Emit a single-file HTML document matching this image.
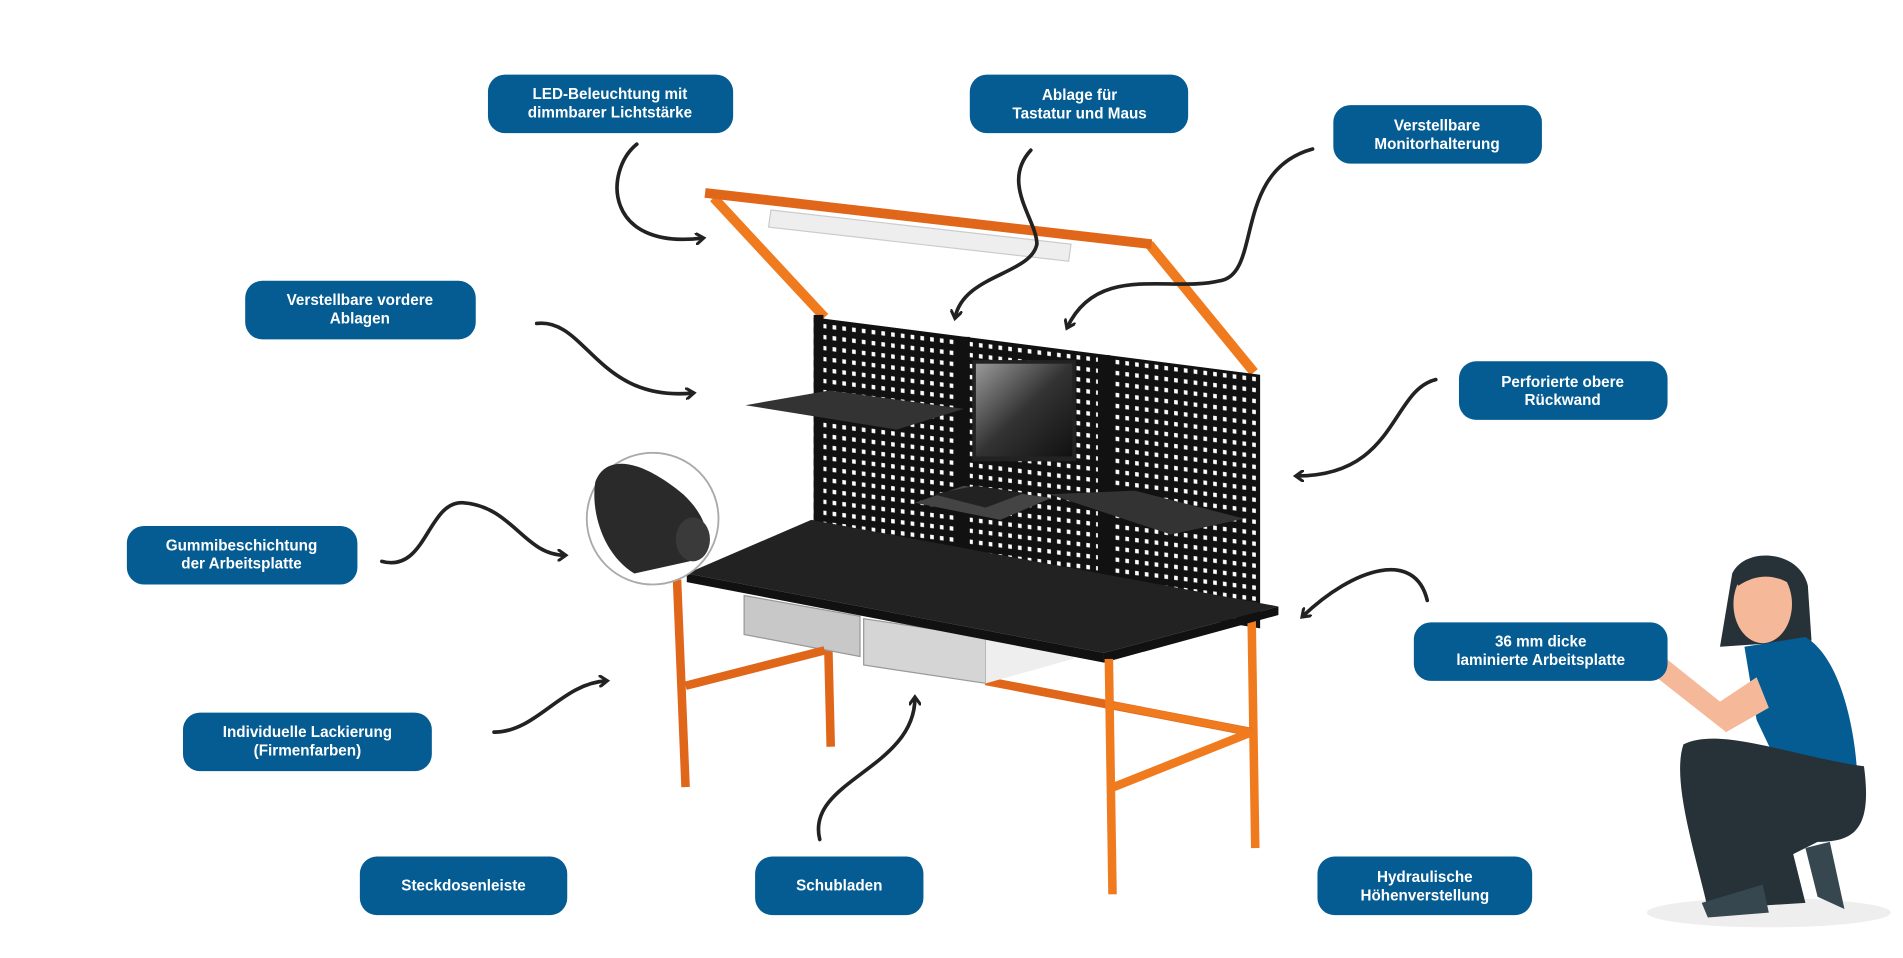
<!DOCTYPE html>
<html><head><meta charset="utf-8"><style>
html,body{margin:0;padding:0;background:#fff;}
svg{display:block;}
text{font-family:"Liberation Sans",sans-serif;font-weight:bold;font-size:12.5px;fill:#fff;text-anchor:middle;}
</style></head><body>
<svg width="1903" height="958" viewBox="0 0 1560 785" xmlns="http://www.w3.org/2000/svg">
<defs>
<pattern id="dots" width="8" height="9" patternUnits="userSpaceOnUse" patternTransform="skewY(7)">
<rect width="8" height="9" fill="#111"/><rect x="2.5" y="2.5" width="3" height="3.5" fill="#fff"/>
</pattern>
<linearGradient id="mon" x1="0" y1="0" x2="1" y2="1"><stop offset="0" stop-color="#999"/><stop offset="0.5" stop-color="#333"/><stop offset="1" stop-color="#111"/></linearGradient>
<marker id="ah" markerWidth="10" markerHeight="10" refX="6" refY="5" orient="auto" markerUnits="userSpaceOnUse">
<path d="M0,0 L7,5 L0,10" fill="none" stroke="#222" stroke-width="2.5"/></marker>
</defs>

<line x1="585" y1="162" x2="676" y2="260" stroke="#f07b1f" stroke-width="8"/>
<line x1="942" y1="200" x2="1028" y2="305" stroke="#f07b1f" stroke-width="8"/>
<polygon points="632,172 878,200 876,214 630,186" fill="#eee" stroke="#ccc"/>
<line x1="578" y1="158" x2="944" y2="200" stroke="#e0661a" stroke-width="8"/>

<polygon points="667,260 1033,307 1033,515 667,455" fill="url(#dots)"/>
<rect x="667" y="258" width="8" height="200" fill="#111"/>
<line x1="790" y1="276" x2="790" y2="470" stroke="#111" stroke-width="10"/>
<line x1="905" y1="291" x2="905" y2="490" stroke="#111" stroke-width="10"/>
<rect x="797" y="295" width="85" height="83" fill="#222"/>
<rect x="800" y="298" width="79" height="76" fill="url(#mon)"/>
<polygon points="611,332 680,320 790,335 735,352" fill="#333"/>
<polygon points="860,405 930,402 1020,425 960,438" fill="#333"/>
<polygon points="750,412 790,398 862,408 820,426" fill="#444"/>
<polygon points="765,405 800,398 840,404 808,416" fill="#222"/>

<line x1="679" y1="530" x2="681" y2="612" stroke="#e0661a" stroke-width="7"/>
<line x1="1026" y1="505" x2="1029" y2="695" stroke="#f07b1f" stroke-width="7"/>
<line x1="808" y1="558" x2="1026" y2="600" stroke="#e0661a" stroke-width="7"/>
<polygon points="610,488 705,505 705,538 610,520" fill="#c8c8c8" stroke="#999"/>
<polygon points="708,507 808,522 808,560 708,545" fill="#d5d5d5" stroke="#999"/>
<polygon points="808,522 880,525 880,540 808,560" fill="#eee"/>
<polygon points="563,470 665,426 1048,497 905,535" fill="#222"/>
<polygon points="563,470 905,535 905,543 563,477" fill="#111"/>
<polygon points="905,535 1048,497 1048,504 905,543" fill="#111"/>
<line x1="555" y1="475" x2="562" y2="645" stroke="#e0661a" stroke-width="7"/>
<line x1="909" y1="540" x2="912" y2="733" stroke="#f07b1f" stroke-width="7"/>
<line x1="562" y1="562" x2="676" y2="533" stroke="#e0661a" stroke-width="7"/>
<line x1="913" y1="645" x2="1026" y2="600" stroke="#f07b1f" stroke-width="7"/>
<line x1="913" y1="578" x2="1026" y2="600" stroke="#f07b1f" stroke-width="6"/>

<circle cx="535" cy="425" r="54" fill="#fff" stroke="#aaa" stroke-width="1.5"/>
<path d="M488,395 C495,375 520,372 560,405 C585,428 585,455 565,460 L520,470 C495,455 484,420 488,395Z" fill="#2a2a2a"/>
<ellipse cx="568" cy="442" rx="14" ry="18" fill="#3a3a3a"/>

<g fill="none" stroke="#222" stroke-width="3" stroke-linecap="round" marker-end="url(#ah)">
<path d="M522,118 C495,140 495,205 576,195"/>
<path d="M845,123 C820,150 850,180 850,200 C845,225 790,225 783,260"/>
<path d="M1076,122 C1010,140 1035,225 1000,230 C960,240 900,215 875,268"/>
<path d="M440,265 C480,260 490,330 568,322"/>
<path d="M1177,311 C1140,320 1145,390 1063,390"/>
<path d="M313,460 C350,470 350,410 380,412 C420,415 430,455 463,455"/>
<path d="M1170,492 C1160,450 1110,465 1068,505"/>
<path d="M405,600 C440,600 460,560 497,558"/>
<path d="M672,688 C660,640 750,630 750,572"/>
</g>

<ellipse cx="1450" cy="748" rx="100" ry="12" fill="#eee"/>
<path d="M1420,470 C1430,448 1475,450 1482,480 L1485,525 L1410,530 Z" fill="#263238"/>
<ellipse cx="1445" cy="495" rx="24" ry="32" fill="#f5b99a"/>
<path d="M1420,470 C1440,455 1470,460 1478,480 L1470,480 C1455,470 1440,470 1425,480Z" fill="#263238"/>
<path d="M1430,530 L1480,522 C1510,540 1520,600 1522,628 L1460,632 L1440,590 Z" fill="#045c93"/>
<path d="M1345,545 L1360,535 L1410,575 L1440,555 L1450,580 L1415,600 Z" fill="#f5b99a"/>
<path d="M1380,610 C1410,595 1470,620 1528,628 C1535,680 1520,690 1490,690 L1470,700 L1480,740 L1400,745 C1390,700 1370,640 1380,610Z" fill="#263238"/>
<path d="M1395,740 L1445,725 L1450,748 L1400,752Z" fill="#37474f"/>
<path d="M1480,695 L1500,690 L1512,745 L1490,735Z" fill="#37474f"/>

<g fill="#045c93">
<rect x="400" y="61" width="201" height="48" rx="14"/>
<rect x="795" y="61" width="179" height="48" rx="14"/>
<rect x="1093" y="86" width="171" height="48" rx="14"/>
<rect x="201" y="230" width="189" height="48" rx="14"/>
<rect x="1196" y="296" width="171" height="48" rx="14"/>
<rect x="104" y="431" width="189" height="48" rx="14"/>
<rect x="1159" y="510" width="208" height="48" rx="14"/>
<rect x="150" y="584" width="204" height="48" rx="14"/>
<rect x="295" y="702" width="170" height="48" rx="14"/>
<rect x="619" y="702" width="138" height="48" rx="14"/>
<rect x="1080" y="702" width="176" height="48" rx="14"/>
</g>
<text x="500" y="81">LED-Beleuchtung mit</text><text x="500" y="96">dimmbarer Lichtstärke</text>
<text x="885" y="82">Ablage für</text><text x="885" y="97">Tastatur und Maus</text>
<text x="1178" y="107">Verstellbare</text><text x="1178" y="122">Monitorhalterung</text>
<text x="295" y="250">Verstellbare vordere</text><text x="295" y="265">Ablagen</text>
<text x="1281" y="317">Perforierte obere</text><text x="1281" y="332">Rückwand</text>
<text x="198" y="451">Gummibeschichtung</text><text x="198" y="466">der Arbeitsplatte</text>
<text x="1263" y="530">36 mm dicke</text><text x="1263" y="545">laminierte Arbeitsplatte</text>
<text x="252" y="604">Individuelle Lackierung</text><text x="252" y="619">(Firmenfarben)</text>
<text x="380" y="730">Steckdosenleiste</text>
<text x="688" y="730">Schubladen</text>
<text x="1168" y="723">Hydraulische</text><text x="1168" y="738">Höhenverstellung</text>
</svg>
</body></html>
